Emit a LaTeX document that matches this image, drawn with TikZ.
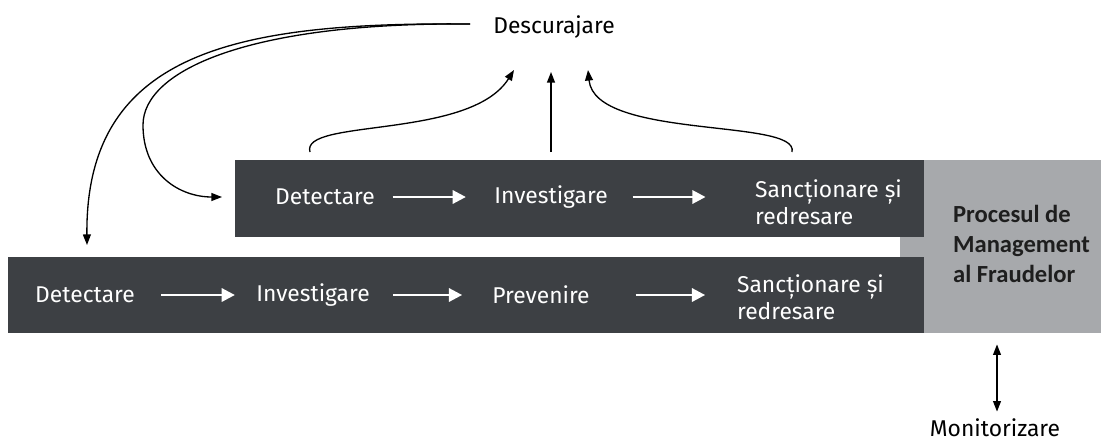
\documentclass[tikz,border=0pt]{standalone}
\usepackage{fontspec}
\setmainfont{Fira Sans}
\newfontfamily\procfont{Carlito}
\usetikzlibrary{positioning,arrows.meta}
\definecolor{barDark}{HTML}{3D4044}
\definecolor{barGray}{HTML}{A7A9AC}
\definecolor{procText}{HTML}{1E1E1E}

\begin{document}
\begin{tikzpicture}[x=0.02cm, y=-0.02cm,
  every node/.style={font=\fontsize{13}{15.5}\selectfont, inner sep=1pt},
  steptext/.style={text=white, anchor=center},
  flowarrow/.style={draw=white, line width=1.5pt, -{Triangle[length=7.5pt,width=7.5pt]}},
  backarrow/.style={draw=black, line width=0.75pt, -{Triangle[length=6pt,width=4.5pt]}}]

\useasboundingbox (0,0) rectangle (1101,443);

% --- background bars ---
\fill[barGray] (924,160) rectangle (1101,333);
\fill[barGray] (900,237) rectangle (924,257);
\fill[barDark] (235,160) rectangle (924,237);
\fill[barDark] (8,257) rectangle (924,333);

% --- upper process ---
\node[steptext] (detA) at (325,197) {Detectare};
\node[steptext] (invA) at (551,197) {Investigare};
\node[steptext, anchor=west, align=left] (sancA) at (753,202) {Sancționare și\\redresare};
\draw[flowarrow, shorten <=9pt, shorten >=15pt] (detA.east) -- (invA.west);
\draw[flowarrow, shorten <=13pt, shorten >=27pt] (invA.east) -- (invA.east -| sancA.west);

% --- lower process ---
\node[steptext] (detB) at (85,295) {Detectare};
\node[steptext] (invB) at (313,295) {Investigare};
\node[steptext] (prevB) at (541,295) {Prevenire};
\node[steptext, anchor=west, align=left] (sancB) at (735,297) {Sancționare și\\redresare};
\draw[flowarrow, shorten <=14pt, shorten >=11pt] (detB.east) -- (invB.west);
\draw[flowarrow, shorten <=12pt, shorten >=16pt] (invB.east) -- (prevB.west);
\draw[flowarrow, shorten <=25pt, shorten >=17pt] (prevB.east) -- (prevB.east -| sancB.west);

% --- fraud management ---
\node[anchor=west, align=left, text=procText,
      font=\procfont\bfseries\fontsize{14}{17}\selectfont] (proc) at (951,244)
     {Procesul de\\Management\\al Fraudelor};
\node (mon) at (995,428) {Monitorizare};
\coordinate (grayS) at (997,333);
\draw[backarrow, {Triangle[length=6pt,width=4.5pt]}-{Triangle[length=6pt,width=4.5pt]},
      shorten <=6.5pt, shorten >=3pt] (grayS) -- (grayS |- mon.north);

% --- descurajare loops ---
\node (desc) at (554,27) {Descurajare};
\coordinate (descL) at (470,24);
\coordinate (tipL) at (514,70);
\coordinate (tipM) at (551,72);
\coordinate (tipR) at (588,70);
\coordinate (fromL) at (310,152);
\coordinate (fromM) at (551,152);
\coordinate (fromR) at (792,152);
\draw[backarrow] (fromL) .. controls (300,118) and (470,140) .. (tipL);
\draw[backarrow] (fromM) -- (tipM);
\draw[backarrow] (fromR) .. controls (800,118) and (595,140) .. (tipR);
\draw[backarrow] (descL) .. controls (250,22) and (143,70) .. (143,125)
                 .. controls (143,175) and (180,197) .. (detA.west -| 222,0);
\draw[backarrow] (descL) .. controls (240,22) and (85,50) .. (87,245);

\end{tikzpicture}
\end{document}
